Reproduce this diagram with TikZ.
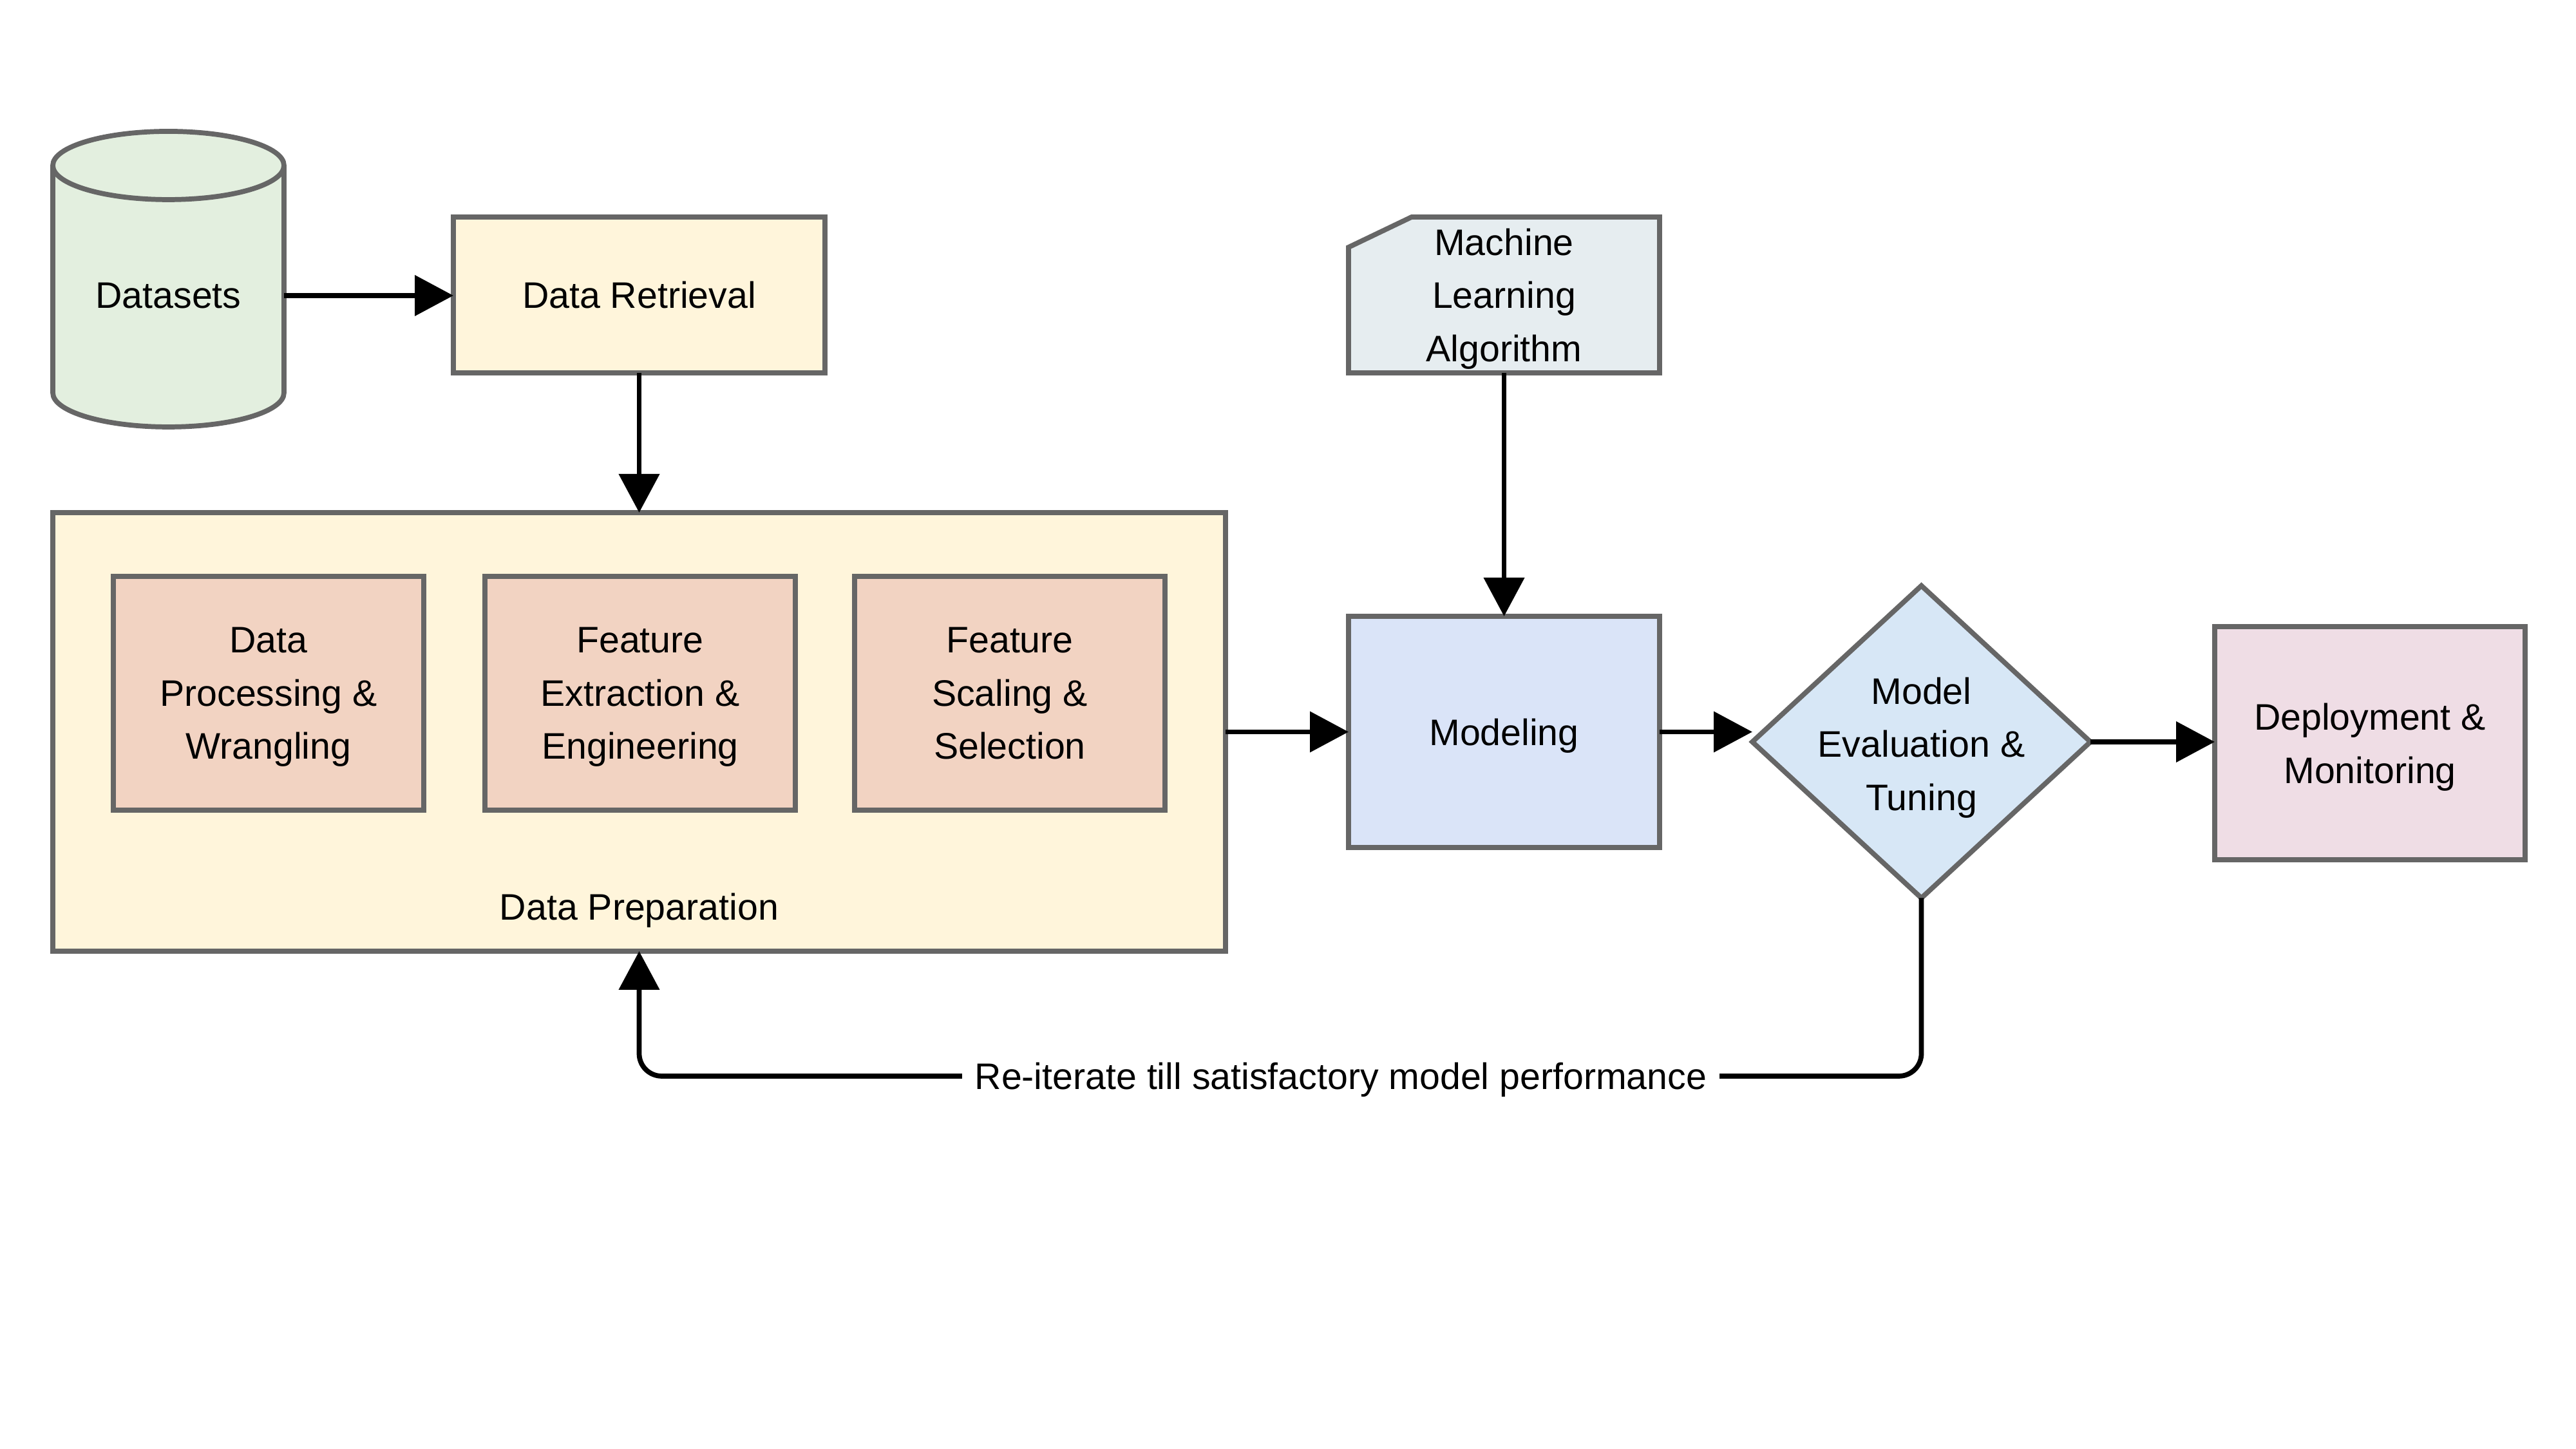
\documentclass[tikz,border=0pt]{standalone}
\usepackage{fontspec}
\setmainfont{Liberation Sans}
\usetikzlibrary{arrows.meta,shapes.geometric,backgrounds,calc}
\definecolor{bordc}{HTML}{666666}
\definecolor{dscol}{HTML}{E3EFDF}
\definecolor{creamcol}{HTML}{FFF5DB}
\definecolor{peachcol}{HTML}{F2D3C2}
\definecolor{mlcol}{HTML}{E6EDF0}
\definecolor{modcol}{HTML}{DAE4F8}
\definecolor{diacol}{HTML}{D7E7F6}
\definecolor{depcol}{HTML}{EFDDE5}
\begin{document}
\begin{tikzpicture}[
  txt/.style={align=center, inner sep=0pt, outer sep=0pt, text depth=0pt, font=\fontsize{16.3}{23.5}\selectfont},
  box/.style={txt, draw=bordc, line width=2.2pt},
  conn/.style={line width=2.2pt, -{Triangle[length=0.6cm,width=0.62cm]}},
]
\useasboundingbox (0,0) rectangle (40,22.5);

% Datasets cylinder
\fill[dscol] (0.82,19.93) -- (0.82,16.40) arc[start angle=180,end angle=360,x radius=1.795,y radius=0.53] -- (4.41,19.93) arc[start angle=0,end angle=180,x radius=1.795,y radius=0.53] -- cycle;
\draw[bordc, line width=2.2pt] (0.82,19.93) -- (0.82,16.40) arc[start angle=180,end angle=360,x radius=1.795,y radius=0.53] -- (4.41,19.93);
\draw[bordc, line width=2.2pt] (2.615,19.93) ellipse[x radius=1.795, y radius=0.53];
\node[txt, minimum width=3.59cm] (ds) at (2.615,17.91) {Datasets};

% Data Retrieval
\node[box, fill=creamcol, minimum width=5.77cm, minimum height=2.42cm] (dr) at (9.925,17.92) {Data Retrieval};

% Data Preparation
\node[box, fill=creamcol, minimum width=18.21cm, minimum height=6.81cm] (dp) at (9.925,11.135) {};
\node[box, fill=peachcol, minimum width=4.82cm, minimum height=3.63cm] (p1) at (4.17,11.735) {Data\\Processing \&\\Wrangling};
\node[box, fill=peachcol, minimum width=4.82cm, minimum height=3.63cm] (p2) at (9.94,11.735) {Feature\\Extraction \&\\Engineering};
\node[box, fill=peachcol, minimum width=4.82cm, minimum height=3.63cm] (p3) at (15.68,11.735) {Feature\\Scaling \&\\Selection};
\node[txt] (dpl) at ($(dp.south)+(0,0.69)$) {Data Preparation};

% Machine Learning Algorithm
\node[txt, minimum width=4.83cm, minimum height=2.42cm] (ml) at (23.355,17.92) {Machine\\Learning\\Algorithm};
\begin{scope}[on background layer]
\draw[bordc, line width=2.2pt, fill=mlcol] (ml.south west) -- ($(ml.north west)+(0,-0.47)$) -- ($(ml.north west)+(0.98,0)$) -- (ml.north east) -- (ml.south east) -- cycle;
\end{scope}

% Modeling
\node[box, fill=modcol, minimum width=4.83cm, minimum height=3.59cm] (mod) at (23.355,11.135) {Modeling};

% Diamond
\node[diamond, draw=bordc, line width=2.2pt, fill=diacol, inner sep=0pt, outer sep=0pt, minimum width=5.25cm, minimum height=4.85cm] (dia) at (29.835,10.98) {};
\node[txt] (diat) at ($(dia.center)+(0,-0.03)$) {Model\\Evaluation \&\\Tuning};

% Deployment
\node[box, fill=depcol, minimum width=4.82cm, minimum height=3.62cm] (dep) at (36.8,10.96) {Deployment \&\\Monitoring};

% Connectors
\draw[conn] (ds.east) -- (ds.east -| dr.west);
\draw[conn] (dr.south) -- (dr.south |- dp.north);
\draw[conn] (ml.south) -- (mod.north);
\draw[conn] (dp.east |- mod.west) -- (mod.west);
\draw[conn] (mod.east) -- (mod.east -| dia.west);
\draw[conn] (dia.east) -- (dia.east -| dep.west);
\coordinate (fb) at ($(dp.south)+(0,-1.94)$);
\draw[conn, rounded corners=0.35cm] (dia.south) -- (dia.south |- fb) -- (fb) -- (dp.south);
\node[txt, fill=white, inner xsep=0.2cm, inner ysep=0.1cm] (fbl) at (20.82,5.79) {Re-iterate till satisfactory model performance};
\end{tikzpicture}
\end{document}
